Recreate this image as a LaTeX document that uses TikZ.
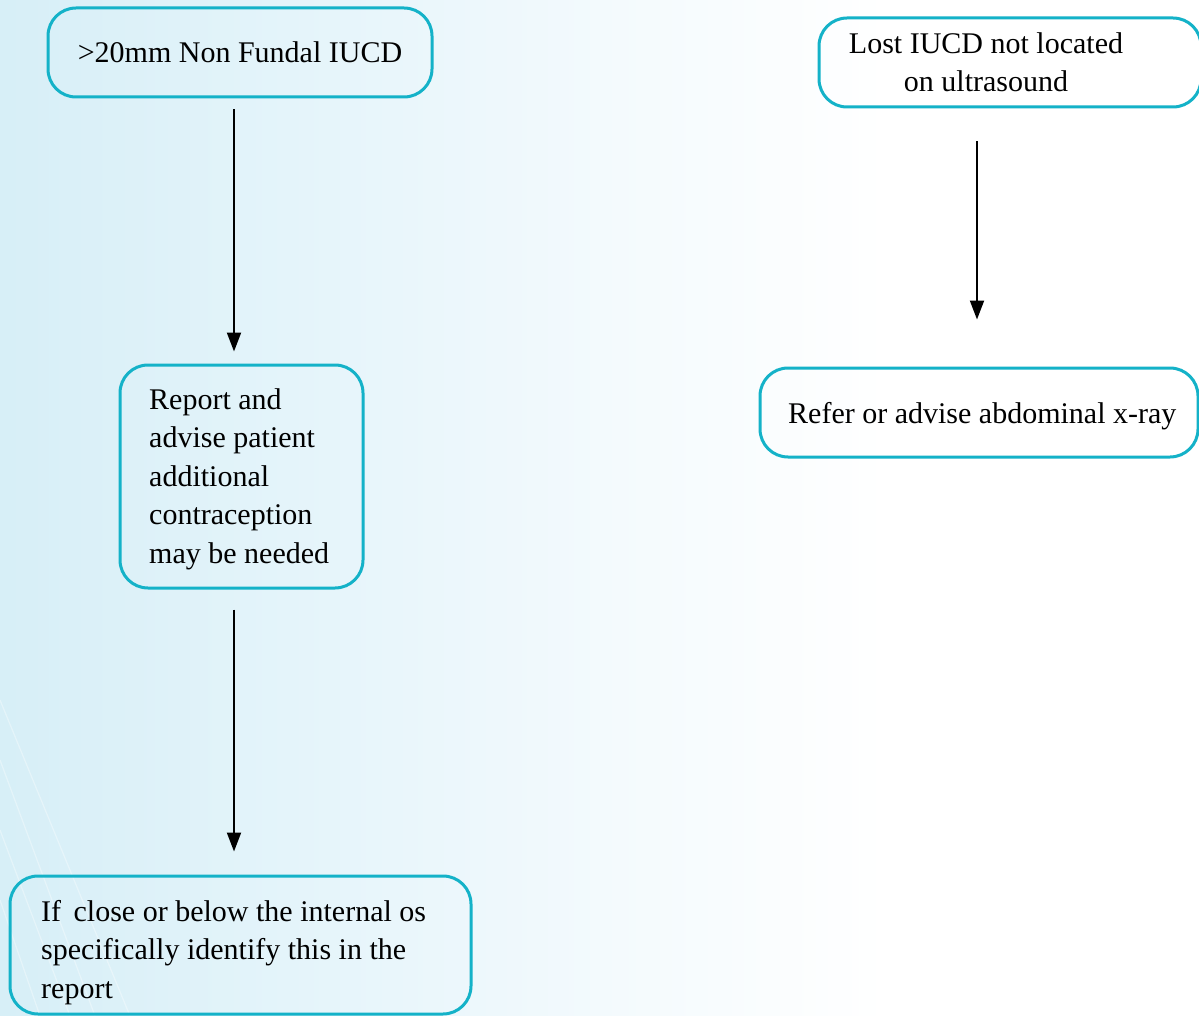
\documentclass[tikz,border=0pt]{standalone}
\usepackage{fontspec}
\setmainfont{Liberation Serif}
\usetikzlibrary{arrows.meta,calc}

\definecolor{edge}{RGB}{20,178,200}
\definecolor{bgA}{RGB}{182,225,239}
\definecolor{bgB}{RGB}{206,235,245}
\definecolor{bgC}{RGB}{228,244,250}
\definecolor{bgD}{RGB}{243,250,253}

% soft blue wash on the left, fading to white
\pgfdeclarehorizontalshading{bgfade}{100bp}{color(0bp)=(bgA); color(17bp)=(bgB); color(37bp)=(bgC); color(50bp)=(bgD); color(62bp)=(white); color(100bp)=(white)}

\tikzset{
  flowbox/.style={draw=edge, line width=3pt, rounded corners=28pt, inner sep=0pt},
  flowtext/.style={font=\fontsize{30}{38.5}\selectfont, inner sep=0pt},
  arr/.style={line width=2pt, -{Triangle[length=19pt,width=14pt]}},
  streak/.style={white, opacity=0.35, line width=1.2pt}
}

\begin{document}
\begin{tikzpicture}[x=1pt,y=-1pt]
\useasboundingbox (0,0) rectangle (1199,1016);
\shade[shading=bgfade] (0,0) rectangle (1199,1016);

% faint diagonal streaks, lower left
\draw[streak] (0,700) -- (130,1016);
\draw[streak] (0,760) -- (95,1016);
\draw[streak] (0,830) -- (70,1016);
\draw[streak] (0,900) -- (40,1016);

% boxes
\node[flowbox, minimum width=384pt, minimum height=89pt] (fundal) at (240,52.5) {};
\node[flowbox, minimum width=243pt, minimum height=223pt] (advise) at (241.5,476.5) {};
\node[flowbox, minimum width=461pt, minimum height=138pt] (os) at (240.5,945) {};
\node[flowbox, minimum width=382pt, minimum height=89pt] (lost) at (1010,62.5) {};
\node[flowbox, minimum width=438pt, minimum height=89pt] (xray) at (979,412.5) {};

% box texts; multi-line texts are placed by the baseline of their last line
\node[flowtext, anchor=base] (fundaltext) at (240,63) {>20mm Non Fundal IUCD};
\node[flowtext, anchor=base west, align=flush left] (advisetext) at (149,563)
  {Report and\\advise patient\\additional\\contraception\\may be needed};
\node[flowtext, anchor=base west, align=flush left] (ostext) at (41,998)
  {If\, close or below the internal os\\specifically identify this in the\\report};
\node[flowtext, anchor=base, align=center] (losttext) at (986,92) {Lost IUCD not located\\on ultrasound};
\node[flowtext, anchor=base west] (xraytext) at (788,423) {Refer or advise abdominal x-ray};

% arrow columns
\coordinate (colL) at (234,0);
\coordinate (colR) at (977,0);

\draw[arr, shorten <=11pt, shorten >=12pt] (fundal.south -| colL) -- (advise.north -| colL);
\draw[arr, shorten <=20pt, shorten >=23pt] (advise.south -| colL) -- (os.north -| colL);
\draw[arr, shorten <=33pt, shorten >=47pt] (lost.south -| colR) -- (xray.north -| colR);
\end{tikzpicture}
\end{document}
